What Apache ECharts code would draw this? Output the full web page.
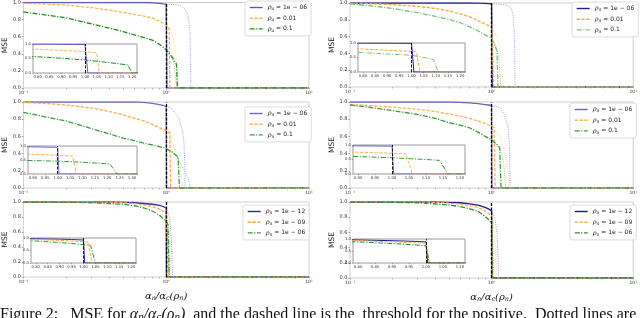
<!DOCTYPE html>
<html><head><meta charset="utf-8">
<script src="https://cdn.jsdelivr.net/npm/echarts@6/dist/echarts.min.js"></script>
<style>html,body{margin:0;padding:0;background:#fff;overflow:hidden}#c{width:640px;height:318px}</style>
</head><body><div id="c"></div><script>
// ---------------- data ----------------
const alphaGrid = [0.1, 0.15, 0.2, 0.3, 0.4, 0.5, 0.6, 0.7, 0.8, 0.9, 0.95, 1.0];
const mainXTicks = [0.1, 1, 10];
const minorXTicks = [0.1,0.2,0.3,0.4,0.5,0.6,0.7,0.8,0.9,1,2,3,4,5,6,7,8,9,10];

// panel 1 (top-left)
const p1Sub = 'a';
const p1Labels = ['1e − 06', '0.01', '0.1'];
const p1Pre = [
  [1.0, 1.0, 1.0, 1.0, 1.0, 1.0, 1.0, 1.0, 0.995, 0.99, 0.985, 0.98],
  [0.99, 0.98, 0.97, 0.94, 0.91, 0.885, 0.86, 0.84, 0.82, 0.78, 0.76, 0.74],
  [0.89, 0.85, 0.82, 0.75, 0.70, 0.66, 0.62, 0.59, 0.56, 0.51, 0.48, 0.45]
];
const p1Drop = [
  [[1.012, 0], [10, 0]],
  [[1.05, 0.69], [1.06, 0], [10, 0]],
  [[1.1, 0.36], [1.18, 0.28], [1.2, 0], [10, 0]]
];
const p1Theory = [
  [[1.0, 0.98], [1.15, 0.975], [1.27, 0.96], [1.35, 0.93], [1.41, 0.87], [1.45, 0.75], [1.47, 0.6], [1.48, 0.3], [1.485, 0]],
  [[1.0, 0.74], [1.05, 0.70], [1.1, 0.62], [1.14, 0.52], [1.17, 0.38], [1.19, 0.24], [1.205, 0.1], [1.21, 0]],
  [[1.0, 0.45], [1.05, 0.40], [1.1, 0.35], [1.13, 0.3], [1.15, 0.2], [1.17, 0.07], [1.18, 0]]
];
const p1InsetTicks = [0.80, 0.85, 0.90, 0.95, 1.00, 1.05, 1.10, 1.15, 1.20];

// panel 2 (top-right)
const p2Sub = 'n';
const p2Labels = ['1e − 06', '0.01', '0.1'];
const p2Pre = [
  [1.0, 1.0, 1.0, 1.0, 1.0, 1.0, 1.0, 1.0, 0.998, 0.995, 0.993, 0.99],
  [0.995, 0.99, 0.98, 0.96, 0.935, 0.905, 0.87, 0.835, 0.79, 0.75, 0.73, 0.71],
  [0.99, 0.96, 0.935, 0.885, 0.84, 0.805, 0.765, 0.715, 0.67, 0.62, 0.60, 0.58]
];
const p2Drop = [
  [[1.01, 0], [10, 0]],
  [[1.02, 0.70], [1.035, 0], [10, 0]],
  [[1.05, 0.5], [1.09, 0.43], [1.11, 0], [10, 0]]
];
const p2Theory = [
  [[1.0, 0.99], [1.15, 0.985], [1.3, 0.97], [1.37, 0.94], [1.42, 0.85], [1.45, 0.6], [1.46, 0.2], [1.465, 0]],
  [[1.0, 0.71], [1.05, 0.66], [1.1, 0.58], [1.15, 0.44], [1.18, 0.25], [1.2, 0.05], [1.205, 0]],
  [[1.0, 0.58], [1.05, 0.52], [1.1, 0.42], [1.13, 0.3], [1.15, 0.12], [1.16, 0]]
];
const p2InsetTicks = [0.80, 0.85, 0.90, 0.95, 1.00, 1.05, 1.10, 1.15, 1.20];

// panel 3 (middle-left)
const p3Sub = 'n';
const p3Labels = ['1e − 06', '0.01', '0.1'];
const p3Pre = [
  [1.0, 1.0, 1.0, 1.0, 1.0, 1.0, 1.0, 0.995, 0.985, 0.97, 0.96, 0.95],
  [0.995, 0.98, 0.965, 0.93, 0.89, 0.85, 0.81, 0.78, 0.74, 0.70, 0.685, 0.67],
  [0.88, 0.82, 0.78, 0.69, 0.63, 0.58, 0.55, 0.52, 0.50, 0.48, 0.47, 0.46]
];
const p3Drop = [
  [[1.005, 0], [10, 0]],
  [[1.06, 0.64], [1.075, 0], [10, 0]],
  [[1.1, 0.42], [1.21, 0.36], [1.24, 0], [10, 0]]
];
const p3Theory = [
  [[1.0, 0.95], [1.08, 0.93], [1.15, 0.88], [1.23, 0.81], [1.3, 0.66], [1.33, 0.55], [1.35, 0.3], [1.355, 0]],
  [[1.0, 0.67], [1.05, 0.62], [1.1, 0.54], [1.2, 0.37], [1.25, 0.25], [1.29, 0.1], [1.31, 0]],
  [[1.0, 0.46], [1.1, 0.42], [1.2, 0.35], [1.3, 0.25], [1.4, 0.14], [1.45, 0.06], [1.47, 0]]
];
const p3InsetTicks = [0.90, 0.95, 1.00, 1.05, 1.10, 1.15, 1.20, 1.25, 1.30];

// panel 4 (middle-right)
const p4Sub = 'n';
const p4Labels = ['1e − 06', '0.01', '0.1'];
const p4Pre = [
  [1.0, 1.0, 1.0, 1.0, 1.0, 1.0, 0.995, 0.99, 0.98, 0.97, 0.965, 0.96],
  [0.97, 0.955, 0.94, 0.915, 0.89, 0.86, 0.835, 0.81, 0.78, 0.75, 0.735, 0.72],
  [0.965, 0.93, 0.90, 0.855, 0.81, 0.76, 0.73, 0.70, 0.65, 0.60, 0.58, 0.56]
];
const p4Drop = [
  [[1.005, 0], [10, 0]],
  [[1.04, 0.70], [1.06, 0], [10, 0]],
  [[1.1, 0.50], [1.14, 0.47], [1.165, 0], [10, 0]]
];
const p4Theory = [
  [[1.0, 0.96], [1.08, 0.95], [1.15, 0.93], [1.23, 0.85], [1.31, 0.7], [1.34, 0.45], [1.35, 0.1], [1.352, 0]],
  [[1.0, 0.72], [1.1, 0.64], [1.2, 0.5], [1.28, 0.3], [1.32, 0.1], [1.33, 0]],
  [[1.0, 0.56], [1.1, 0.50], [1.18, 0.40], [1.22, 0.28], [1.25, 0.05], [1.255, 0]]
];
const p4InsetTicks = [0.90, 0.95, 1.00, 1.05, 1.10, 1.15, 1.20];

// panel 5 (bottom-left)
const p5Sub = 'n';
const p5Labels = ['1e − 12', '1e − 09', '1e − 06'];
const p5Pre = [
  [1.0, 1.0, 1.0, 1.0, 1.0, 0.998, 0.99, 0.98, 0.97, 0.955, 0.94, 0.92],
  [1.0, 1.0, 1.0, 1.0, 0.995, 0.99, 0.98, 0.96, 0.94, 0.905, 0.88, 0.85],
  [1.0, 1.0, 1.0, 0.99, 0.98, 0.97, 0.95, 0.92, 0.88, 0.82, 0.78, 0.74]
];
const p5Drop = [
  [[1.005, 0], [10, 0]],
  [[1.02, 0.83], [1.035, 0], [10, 0]],
  [[1.03, 0.70], [1.05, 0], [10, 0]]
];
const p5Theory = [
  [[1.0, 0.92], [1.04, 0.85], [1.07, 0.7], [1.09, 0.45], [1.1, 0.2], [1.11, 0]],
  [[1.0, 0.85], [1.03, 0.75], [1.05, 0.55], [1.07, 0.25], [1.08, 0]],
  [[1.0, 0.74], [1.02, 0.6], [1.04, 0.35], [1.055, 0]]
];
const p5InsetTicks = [0.80, 0.85, 0.90, 0.95, 1.00, 1.05, 1.10, 1.15, 1.20];

// panel 6 (bottom-right)
const p6Sub = 'n';
const p6Labels = ['1e − 12', '1e − 09', '1e − 06'];
const p6Pre = [
  [1.0, 1.0, 1.0, 1.0, 1.0, 0.995, 0.99, 0.975, 0.96, 0.93, 0.91, 0.88],
  [1.0, 1.0, 1.0, 1.0, 0.995, 0.985, 0.97, 0.95, 0.93, 0.88, 0.85, 0.82],
  [1.0, 0.998, 0.995, 0.99, 0.975, 0.96, 0.94, 0.91, 0.88, 0.81, 0.77, 0.72]
];
const p6Drop = [
  [[1.005, 0], [10, 0]],
  [[1.01, 0], [10, 0]],
  [[1.01, 0], [10, 0]]
];
const p6Theory = [
  [[1.0, 0.88], [1.05, 0.8], [1.09, 0.6], [1.11, 0.3], [1.12, 0]],
  [[1.0, 0.82], [1.04, 0.65], [1.07, 0.35], [1.08, 0]],
  [[1.0, 0.72], [1.02, 0.55], [1.03, 0.25], [1.035, 0]]
];
const p6InsetTicks = [0.80, 0.85, 0.90, 0.95, 1.00, 1.05, 1.10];

// ---------------- styles / layout ----------------
const panels = [
  {sub:p1Sub, labels:p1Labels, pre:p1Pre, drop:p1Drop, theory:p1Theory, iticks:p1InsetTicks,
   main:[21,2,288,86], inset:[33,44,104,29], legend:[245,1],
   colors:['#5c5cb8','#ffb14e','#1e8c1e']},
  {sub:p2Sub, labels:p2Labels, pre:p2Pre, drop:p2Drop, theory:p2Theory, iticks:p2InsetTicks,
   main:[350,3,287,84], inset:[358,43,107,29], legend:[572,2],
   colors:['#20208c','#ffa535','#7cc27c']},
  {sub:p3Sub, labels:p3Labels, pre:p3Pre, drop:p3Drop, theory:p3Theory, iticks:p3InsetTicks,
   main:[21,102,288,86], inset:[28,146,109,28], legend:[245,107],
   colors:['#6c6cc0','#ffab45','#3c9c3c']},
  {sub:p4Sub, labels:p4Labels, pre:p4Pre, drop:p4Drop, theory:p4Theory, iticks:p4InsetTicks,
   main:[350,102,287,86], inset:[353,145,112,29], legend:[570,103],
   colors:['#6464bc','#ffb04e','#3a9a3a']},
  {sub:p5Sub, labels:p5Labels, pre:p5Pre, drop:p5Drop, theory:p5Theory, iticks:p5InsetTicks,
   main:[21,202,288,75], inset:[31,238,105,25], legend:[243,205],
   colors:['#2a2a9c','#ffa63c','#3a9a3a']},
  {sub:p6Sub, labels:p6Labels, pre:p6Pre, drop:p6Drop, theory:p6Theory, iticks:p6InsetTicks,
   main:[350,202,287,76], inset:[353,239,112,24], legend:[570,205],
   colors:['#1a1a84','#ffb04a','#2e8e2e']}
];
const theoryColors = ['#9a9ae4','#ffcf94','#8ccc8c'];
const dashTypes = ['solid', [3.2, 1.6], [5, 1.5, 1.2, 1.5]];

const supMap = {'-':'⁻','0':'⁰','1':'¹','2':'²'};
function logLabel(v){ const e = Math.round(Math.log10(v)); return '10' + String(e).split('').map(c=>supMap[c]).join(''); }

const grids = [], xAxes = [], yAxes = [], series = [], legends = [];
const tickFont = {fontSize:5, color:'#333', fontFamily:'DejaVu Sans'};

panels.forEach((p, i) => {
  const gi = grids.length;
  grids.push({left:p.main[0], top:p.main[1], width:p.main[2], height:p.main[3], show:true, borderColor:'#cfcfcf', borderWidth:1, backgroundColor:'transparent'});
  xAxes.push({gridIndex:gi, type:'log', logBase:10, min:0.1, max:10,
    axisLine:{show:false}, splitLine:{show:false},
    axisTick:{show:true, length:1.5, lineStyle:{color:'#888', width:0.6}, customValues:minorXTicks},
    axisLabel:{...tickFont, fontSize:4.5, margin:2.5, customValues:mainXTicks, formatter:logLabel},
    name: i >= 4 ? '{a|α}{s|n}{a|/α}{s|c}{a|(ρ}{s|n}{a|)}' : '', nameLocation:'middle', nameGap:13,
    nameTextStyle:{rich:{a:{fontSize:10, fontFamily:'DejaVu Serif', fontStyle:'italic', color:'#111', lineHeight:12},
                         s:{fontSize:6.5, fontFamily:'DejaVu Serif', fontStyle:'italic', color:'#111', verticalAlign:'bottom', lineHeight:12, padding:[4,0,0,0]}}}
  });
  yAxes.push({gridIndex:gi, type:'value', min:0, max:1, interval:0.2,
    axisLine:{show:false}, splitLine:{show:false},
    axisTick:{show:true, length:1.5, lineStyle:{color:'#666', width:0.6}},
    axisLabel:{...tickFont, margin:2.5, formatter:v=>v.toFixed(1)},
    name:'MSE', nameLocation:'middle', nameGap:11, nameTextStyle:{fontSize:7.5, color:'#222', fontFamily:'DejaVu Sans'}
  });
  const ii = grids.length;
  const span = p.iticks[p.iticks.length-1] - p.iticks[0];
  grids.push({left:p.inset[0], top:p.inset[1], width:p.inset[2], height:p.inset[3], show:true, borderColor:'#9a9a9a', borderWidth:1, backgroundColor:'transparent'});
  xAxes.push({gridIndex:ii, type:'value', min:+(p.iticks[0]-0.05*span).toFixed(4), max:+(p.iticks[p.iticks.length-1]+0.05*span).toFixed(4),
    axisLine:{show:false}, splitLine:{show:false},
    axisTick:{show:true, length:1.2, lineStyle:{color:'#666', width:0.5}, customValues:p.iticks},
    axisLabel:{...tickFont, fontSize:3.8, margin:2, customValues:p.iticks, formatter:v=>v.toFixed(2)}
  });
  yAxes.push({gridIndex:ii, type:'value', min:0, max:1, interval:0.5,
    axisLine:{show:false}, splitLine:{show:false},
    axisTick:{show:true, length:1.2, lineStyle:{color:'#666', width:0.5}},
    axisLabel:{...tickFont, fontSize:3.8, margin:2, formatter:v=>v.toFixed(1)}
  });

  const names = [];
  for (let k = 0; k < 3; k++) {
    const nm = 'p' + i + '_' + k;
    names.push(nm);
    const styled = alphaGrid.map((a, j) => [a, p.pre[k][j]]).concat(p.drop[k]);
    series.push({type:'line', name:'t'+nm, xAxisIndex:gi, yAxisIndex:gi, data:p.theory[k], symbol:'none', silent:true, z:2,
      lineStyle:{color:theoryColors[k], width:1, type:[1,1.3]}});
    series.push({type:'line', name:nm, xAxisIndex:gi, yAxisIndex:gi, data:styled, symbol:'none', z:3,
      lineStyle:{color:p.colors[k], width:1.3, type:dashTypes[k]}, itemStyle:{color:p.colors[k]}});
    series.push({type:'line', name:'i'+nm, xAxisIndex:ii, yAxisIndex:ii, data:styled, symbol:'none', z:3, silent:true,
      lineStyle:{color:p.colors[k], width:1, type:dashTypes[k]}});
  }
  [gi, ii].forEach(ax => {
    series.push({type:'line', name:'m'+ax, xAxisIndex:ax, yAxisIndex:ax, data:[], symbol:'none', z:5, silent:true,
      markLine:{symbol:'none', silent:true, label:{show:false}, animation:false,
        lineStyle:{color:'#000', type:[3,1.5], width: ax===gi ? 1.3 : 0.9}, data:[{xAxis:1}]}});
  });
  const sub = p.sub, labs = p.labels;
  legends.push({orient:'vertical', left:p.legend[0], top:p.legend[1], data:names,
    itemWidth:13, itemHeight:7, itemGap:3.2, padding:[3,4,3,4],
    itemStyle:{opacity:0}, lineStyle:{width:1.4},
    backgroundColor:'rgba(255,255,255,0.9)', borderColor:'#d4d4d4', borderWidth:0.8, borderRadius:2,
    selectedMode:false,
    formatter: n => '{r|ρ}{s|' + sub + '}{t| = ' + labs[+n.split('_')[1]] + '}',
    textStyle:{fontSize:6, color:'#222', rich:{
      r:{fontSize:6.5, fontStyle:'italic', fontFamily:'DejaVu Serif', color:'#222', lineHeight:8},
      s:{fontSize:4.5, fontStyle:'italic', fontFamily:'DejaVu Serif', color:'#222', verticalAlign:'bottom', lineHeight:8},
      t:{fontSize:6, fontFamily:'DejaVu Sans', color:'#222', lineHeight:8}}}
  });
});

const chart = echarts.init(document.getElementById('c'), null, {renderer:'canvas'});
chart.setOption({
  animation:false,
  backgroundColor:'#fff',
  grid:grids, xAxis:xAxes, yAxis:yAxes, series:series, legend:legends,
  graphic:[{type:'text', left:0, top:307, silent:true,
    style:{text:'{b|Figure 2:}{n|   MSE for }{i|α}{q|n}{i|/α}{q|c}{i|(ρ}{q|n}{i|)}{n|  and the dashed line is the  threshold for the positive.  Dotted lines are for the theoretical curves}',
      rich:{b:{fontSize:16, fontFamily:'Liberation Serif', fill:'#111'},
            n:{fontSize:16, fontFamily:'Liberation Serif', fill:'#111'},
            i:{fontSize:16, fontFamily:'Liberation Serif', fontStyle:'italic', fill:'#111'},
            q:{fontSize:11, fontFamily:'Liberation Serif', fontStyle:'italic', fill:'#111', verticalAlign:'bottom'}}}}]
});
</script></body></html>
